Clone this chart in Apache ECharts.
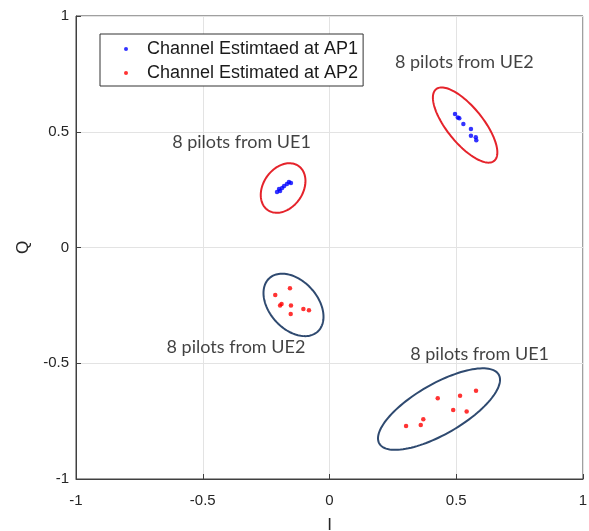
<!DOCTYPE html>
<html>
<head>
<meta charset="utf-8">
<script src="https://cdn.jsdelivr.net/npm/echarts@6/dist/echarts.min.js"></script>
<style>html,body{margin:0;padding:0;background:#fff}#c{width:589px;height:531px}</style>
</head>
<body>
<div id="c"></div>
<script>
// Axis ticks
var xTicks = [-1, -0.5, 0, 0.5, 1];
var yTicks = [-1, -0.5, 0, 0.5, 1];

// Channel estimated at AP1 (blue): pilots from UE1 then UE2
var ap1UE1 = [[-0.207,0.240],[-0.195,0.244],[-0.199,0.253],[-0.187,0.257],[-0.179,0.266],[-0.168,0.274],[-0.160,0.283],[-0.152,0.279]];
var ap1UE2 = [[0.495,0.577],[0.506,0.562],[0.512,0.558],[0.528,0.533],[0.558,0.512],[0.558,0.483],[0.577,0.476],[0.579,0.463]];
// Channel estimated at AP2 (red)
var ap2UE2 = [[-0.214,-0.205],[-0.156,-0.176],[-0.189,-0.244],[-0.195,-0.251],[-0.152,-0.251],[-0.153,-0.287],[-0.103,-0.266],[-0.081,-0.271]];
var ap2UE1 = [[0.302,-0.771],[0.360,-0.767],[0.370,-0.742],[0.427,-0.651],[0.488,-0.702],[0.515,-0.640],[0.541,-0.708],[0.578,-0.619]];

// Annotation ellipses: centre x, centre y, semi-major, semi-minor (x units), angle (deg), group
var ellipseCx = [-0.183, 0.535, -0.142, 0.432];
var ellipseCy = [0.257, 0.529, -0.248, -0.698];
var ellipseA  = [0.106, 0.182, 0.142, 0.272];
var ellipseB  = [0.078, 0.071, 0.095, 0.099];
var ellipseAng = [55, -51, -48, 30];
var ellipseGroup = ['AP1', 'AP1', 'AP2', 'AP2'];

// Annotation labels
var noteText = ['8 pilots from UE2', '8 pilots from UE1', '8 pilots from UE2', '8 pilots from UE1'];
var noteX = [0.532, -0.347, -0.369, 0.592];
var noteY = [0.801, 0.456, -0.430, -0.460];

var seriesNames = ['Channel Estimtaed at AP1', 'Channel Estimated at AP2'];

var ellipseData = ellipseCx.map(function (cx, i) {
  return [cx, ellipseCy[i], ellipseA[i], ellipseB[i], ellipseAng[i], ellipseGroup[i] === 'AP1' ? 0 : 1];
});
var noteData = noteText.map(function (t, i) { return { value: [noteX[i], noteY[i]], name: t }; });

var ellipseColors = ['#e5232b', '#2f4a70'];

var chart = echarts.init(document.getElementById('c'));
var tickFont = { fontFamily: 'Liberation Sans', fontSize: 15, color: '#262626' };
chart.setOption({
  animation: false,
  backgroundColor: '#fff',
  grid: { left: 76, top: 16, right: 6, bottom: 52, containLabel: false, outerBoundsMode: 'none', show: true, borderColor: '#404040', borderWidth: 1 },
  legend: {
    data: seriesNames,
    orient: 'vertical',
    left: 100, top: 34,
    icon: 'circle',
    itemWidth: 32, itemHeight: 4,
    itemGap: 4,
    padding: [5, 5, 3, 24],
    borderColor: '#333', borderWidth: 1,
    backgroundColor: '#fff',
    textStyle: { fontFamily: 'Liberation Sans', fontSize: 18, color: '#1a1a1a', lineHeight: 20, padding: [0,0,0,0] }
  },
  xAxis: {
    type: 'value', min: -1, max: 1, interval: 0.5,
    name: 'I', nameLocation: 'middle', nameGap: 38,
    nameTextStyle: { fontFamily: 'Liberation Sans', fontSize: 17, color: '#262626' },
    axisLine: { show: true, onZero: false, lineStyle: { color: '#404040' } },
    axisTick: { inside: true, length: 5, lineStyle: { color: '#404040' } },
    axisLabel: Object.assign({ margin: 14, formatter: function (v) { return xTicks.indexOf(v) >= 0 ? String(v) : ''; } }, tickFont),
    splitLine: { lineStyle: { color: '#e3e3e3' } }
  },
  yAxis: {
    type: 'value', min: -1, max: 1, interval: 0.5,
    name: 'Q', nameLocation: 'middle', nameGap: 42, nameRotate: 90,
    nameTextStyle: { fontFamily: 'Liberation Sans', fontSize: 17, color: '#262626' },
    axisLine: { show: true, onZero: false, lineStyle: { color: '#404040' } },
    axisTick: { inside: true, length: 5, lineStyle: { color: '#404040' } },
    axisLabel: Object.assign({ margin: 7, formatter: function (v) { return yTicks.indexOf(v) >= 0 ? String(v) : ''; } }, tickFont),
    splitLine: { lineStyle: { color: '#e3e3e3' } }
  },
  series: [
    {
      name: seriesNames[0], type: 'scatter', symbol: 'circle', symbolSize: 4.5,
      itemStyle: { color: '#0000ff' }, data: ap1UE1.concat(ap1UE2), z: 5
    },
    {
      name: seriesNames[1], type: 'scatter', symbol: 'circle', symbolSize: 4.5,
      itemStyle: { color: '#ff0000' }, data: ap2UE2.concat(ap2UE1), z: 5
    },
    {
      type: 'custom', coordinateSystem: 'cartesian2d', silent: true, z: 4,
      encode: { x: 0, y: 1 },
      data: ellipseData,
      renderItem: function (params, api) {
        var c = api.coord([api.value(0), api.value(1)]);
        var aPx = api.size([api.value(2), 0])[0];
        var bPx = api.size([api.value(3), 0])[0];
        var th = api.value(4) * Math.PI / 180;
        var pts = [];
        for (var k = 0; k < 120; k++) {
          var t = k / 120 * Math.PI * 2;
          var ex = aPx * Math.cos(t), ey = bPx * Math.sin(t);
          pts.push([c[0] + ex * Math.cos(th) - ey * Math.sin(th), c[1] - (ex * Math.sin(th) + ey * Math.cos(th))]);
        }
        return {
          type: 'polygon', shape: { points: pts },
          style: { fill: 'none', stroke: ellipseColors[api.value(5)], lineWidth: 2 }
        };
      }
    },
    {
      type: 'scatter', symbolSize: 0, silent: true, z: 6,
      data: noteData,
      label: {
        show: true, position: 'inside', formatter: '{b}',
        fontFamily: 'Lato', fontSize: 18, color: '#111'
      }
    }
  ]
});
</script>
</body>
</html>
